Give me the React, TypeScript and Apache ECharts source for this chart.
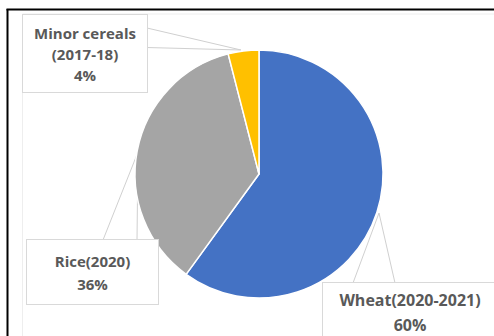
import React, { useEffect, useRef } from "react";
import * as echarts from "echarts";

const categories = ["Wheat(2020-2021)", "Rice(2020)", "Minor cereals\n(2017-18)"];
const shares = [60, 36, 4];
const sliceColors = ["#4472C4", "#A5A5A5", "#FFC000"];

export default function App() {
  const ref = useRef<HTMLDivElement>(null);
  useEffect(() => {
    if (!ref.current) return;
    const chart = echarts.init(ref.current, null, { renderer: "svg" });
    const labelBoxes = [
      { x: 410, y: 283, width: 174, lineHeight: 25, fontSize: 16, padding: [4, 0, 22, 0] },
      { x: 92.5, y: 240, width: 131, lineHeight: 23, fontSize: 15, padding: [9, 0, 9, 0] },
      { x: 85, y: 15, width: 124, lineHeight: 21, fontSize: 15, padding: [7, 0, 7, 0] },
    ];
    const wedgeStyle = { stroke: "#D0D0D0", lineWidth: 1, fill: null };
    chart.setOption({
      animation: false,
      backgroundColor: "#ffffff",
      graphic: [
        { type: "line", z: 0, shape: { x1: 22.5, y1: 14, x2: 494, y2: 14 }, style: { stroke: "#EEEEEE", lineWidth: 1 } },
        { type: "line", z: 0, shape: { x1: 22.5, y1: 14, x2: 22.5, y2: 336 }, style: { stroke: "#EEEEEE", lineWidth: 1 } },
        { type: "line", z: 10, shape: { x1: 6.5, y1: 9.5, x2: 494, y2: 9.5 }, style: { stroke: "#000000", lineWidth: 2 } },
        { type: "line", z: 10, shape: { x1: 7.5, y1: 9, x2: 7.5, y2: 336 }, style: { stroke: "#000000", lineWidth: 2 } },
        { type: "polyline", z: 1, shape: { points: [[147, 28], [241, 50], [147, 47.5]] }, style: wedgeStyle },
        { type: "polyline", z: 1, shape: { points: [[103, 240], [138, 152], [137, 240]] }, style: wedgeStyle },
        { type: "polyline", z: 1, shape: { points: [[353, 283], [379, 213], [395, 283]] }, style: wedgeStyle },
      ],
      series: [
        {
          type: "pie",
          center: [259, 174],
          radius: 124,
          startAngle: 90,
          clockwise: true,
          z: 2,
          itemStyle: { borderColor: "#ffffff", borderWidth: 1.5 },
          emphasis: { disabled: true },
          labelLine: { show: false },
          label: {
            show: true,
            position: "outside",
            formatter: "{b}\n{d}%",
            color: "#595959",
            fontFamily: "Open Sans",
            fontWeight: "bold",
            fontSize: 15,
            align: "center",
            backgroundColor: "#ffffff",
            borderColor: "#D9D9D9",
            borderWidth: 1,
          },
          labelLayout: (params: any) => {
            const b = labelBoxes[params.dataIndex];
            return { x: b.x, y: b.y, align: "center", verticalAlign: "top", hideOverlap: false };
          },
          data: categories.map((name, i) => ({
            name,
            value: shares[i],
            itemStyle: { color: sliceColors[i] },
            label: {
              width: labelBoxes[i].width,
              lineHeight: labelBoxes[i].lineHeight,
              fontSize: labelBoxes[i].fontSize,
              padding: labelBoxes[i].padding,
            },
          })),
        },
      ],
    });
    return () => chart.dispose();
  }, []);
  return (
    <div
      ref={ref}
      style={{ position: "fixed", left: 0, top: 0, width: 494, height: 336, background: "#fff" }}
    />
  );
}
